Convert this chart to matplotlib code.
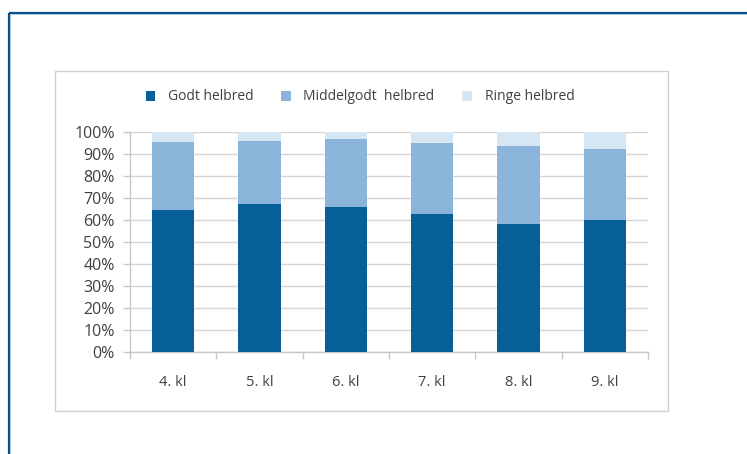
import matplotlib
matplotlib.use("Agg")
import matplotlib.pyplot as plt
from matplotlib.patches import Rectangle
from matplotlib.lines import Line2D
import numpy as np

categories = ["4. kl", "5. kl", "6. kl", "7. kl", "8. kl", "9. kl"]
godt = [64.7, 67.1, 65.9, 62.9, 58.2, 60.0]
middel = [30.8, 28.9, 30.7, 31.9, 35.4, 32.4]
ringe = [4.5, 4.0, 3.4, 5.2, 6.4, 7.6]
series_names = ["Godt helbred", "Middelgodt  helbred", "Ringe helbred"]
colors = ["#065f96", "#8ab4da", "#d7e6f3"]
yticks = [0, 10, 20, 30, 40, 50, 60, 70, 80, 90, 100]

plt.rcParams['font.family'] = ['Open Sans', 'DejaVu Sans']
W, H = 747, 454
fig = plt.figure(figsize=(W / 100, H / 100), dpi=100)
fig.patch.set_facecolor("white")

# outer frame lines
fig.add_artist(Line2D([8.5 / W, 8.5 / W], [0, 1 - 12.5 / H], color="#0b4f8f", lw=1.6,
                      transform=fig.transFigure, solid_capstyle="butt"))
fig.add_artist(Line2D([8.5 / W, 1], [1 - 12.5 / H, 1 - 12.5 / H], color="#0b4f8f", lw=1.6,
                      transform=fig.transFigure, solid_capstyle="butt"))
fig.add_artist(Line2D([10.3 / W, 10.3 / W], [0, 1 - 14.3 / H], color="#a9c4e0", lw=0.6,
                      transform=fig.transFigure))
fig.add_artist(Line2D([10.3 / W, 1], [1 - 14.3 / H, 1 - 14.3 / H], color="#a9c4e0", lw=0.6,
                      transform=fig.transFigure))

# inner chart box
fig.add_artist(Rectangle((55.5 / W, 1 - 411 / H), (668 - 55.5) / W, (411 - 71) / H,
                         transform=fig.transFigure, fill=False, edgecolor="#d0d0d0", lw=1.0))

ax = fig.add_axes([130 / W, 1 - 352.3 / H, (648 - 130) / W, (352.3 - 131.8) / H])
x = np.arange(len(categories))
w = 0.49
bottom = np.zeros(len(categories))
handles = []
for vals, c, name in zip([godt, middel, ringe], colors, series_names):
    b = ax.bar(x, vals, w, bottom=bottom, color=c, edgecolor="none", label=name, zorder=3)
    handles.append(b)
    bottom += np.array(vals)

ax.set_xlim(-0.5, len(categories) - 0.5)
ax.set_ylim(0, 100)
ax.set_yticks(yticks)
ax.set_yticklabels([f"{v}%" for v in yticks])
ax.set_xticks(x)
ax.set_xticklabels(categories)
ax.set_xticks(np.arange(-0.5, len(categories)), minor=True)
ax.tick_params(axis="x", which="major", length=0, pad=16, labelsize=10.5, labelcolor="#404040")
ax.tick_params(axis="x", which="minor", length=5, color="#c8c8c8", width=1)
ax.tick_params(axis="y", length=5, color="#c8c8c8", width=1, pad=6, labelsize=11.5, labelcolor="#404040")
ax.yaxis.grid(True, color="#d6d6d6", lw=1, zorder=0)
ax.set_axisbelow(True)
for s in ["top", "right"]:
    ax.spines[s].set_visible(False)
for s in ["left", "bottom"]:
    ax.spines[s].set_color("#c8c8c8")
    ax.spines[s].set_linewidth(1)

fig.legend(handles=handles, labels=series_names, loc="center",
           bbox_to_anchor=(360 / W, 1 - 97 / H), ncol=3, frameon=False,
           fontsize=10, handlelength=0.7, handleheight=0.7, handletextpad=0.9,
           columnspacing=2.0, labelcolor="#404040")

fig.savefig("out.png", dpi=100, facecolor="white")
